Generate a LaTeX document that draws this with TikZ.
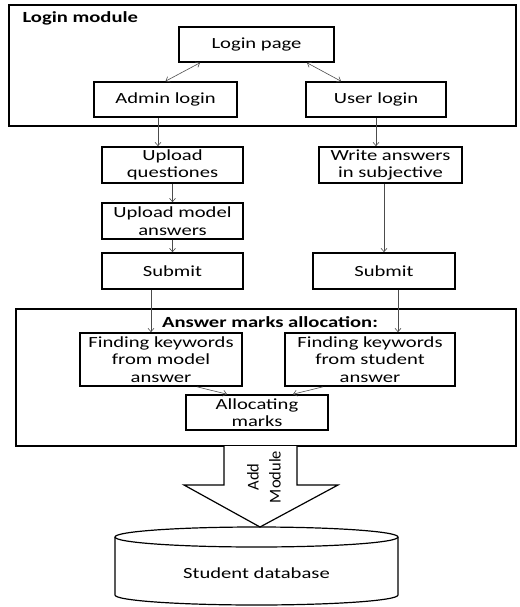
\documentclass[tikz,border=0pt]{standalone}
\usepackage{fontspec}
\setmainfont[FakeStretch=1.33]{Carlito}
\newfontfamily\addfont{Carlito}
\usetikzlibrary{arrows.meta}

\begin{document}
\begin{tikzpicture}[x = 1pt, y = 1pt, >={Straight Barb[length=3.5pt, width=6pt]},
	box/.style = {draw, line width = 1.6pt, inner sep = 1pt, align = center, font = \fontsize{15.5}{17.5}\selectfont},
	frame/.style = {draw, line width = 1.6pt},
	link/.style = {draw = black!70, line width = .6pt},
	title/.style = {anchor = base, font = \bfseries\fontsize{15.5}{17.5}\selectfont}]
	\useasboundingbox (0,0) rectangle (519,-607);
	\draw[frame] (9,-5) rectangle (516,-126); %login module
	\node[title, anchor = base west] (logtitle) at (19,-23) {Login module};
	\node[box, minimum width = 155pt, minimum height = 35pt] (page) at (256.5,-44.5) {Login page};
	\node[box, minimum width = 143pt, minimum height = 35pt] (admin) at (165.5,-99.5) {Admin login};
	\node[box, minimum width = 140pt, minimum height = 35pt] (user) at (376,-99.5) {User login};
	\draw[<->, link] ([xshift=-56.5pt]page.south) -- (admin.north);
	\draw[<->, link] ([xshift=50.5pt]page.south) -- ([xshift=-35pt]user.north);
	%admin side
	\node[box, minimum width = 141pt, minimum height = 36pt] (upq) at (172.5,-165) {Upload\\questiones};
	\node[box, minimum width = 141pt, minimum height = 36pt] (upm) at (172.5,-221) {Upload model\\answers};
	\node[box, minimum width = 141pt, minimum height = 36pt] (subl) at (172.5,-271) {Submit};
	\draw[->, link] ([xshift=-7.5pt]admin.south) -- ([xshift=-7.5pt]admin.south |- upq.north);
	\draw[->, link] (upq.south) -- (upm.north);
	\draw[->, link] (upm.south) -- (subl.north);
	%user side
	\node[box, minimum width = 143pt, minimum height = 36pt] (write) at (390.5,-165) {Write answers\\in subjective};
	\node[box, minimum width = 142pt, minimum height = 36pt] (subr) at (384,-271) {Submit};
	\draw[->, link] (user.south) -- (user.south |- write.north);
	\draw[->, link] (write.south -| subr.north) -- (subr.north);
	%marks allocation
	\draw[frame] (16,-309) rectangle (516,-446);
	\node[title] (marktitle) at (270,-327) {Answer marks allocation:};
	\node[box, minimum width = 162pt, minimum height = 53pt] (findm) at (161,-359.5) {Finding keywords\\from model\\answer};
	\node[box, minimum width = 170pt, minimum height = 53pt] (finds) at (370,-359.5) {Finding keywords\\from student\\answer};
	\node[box, minimum width = 142pt, minimum height = 35pt] (alloc) at (257,-412.5) {Allocating\\marks};
	\draw[->, link] ([xshift=-21.5pt]subl.south) -- ([xshift=-21.5pt]subl.south |- findm.north);
	\draw[->, link] ([xshift=14pt]subr.south) -- ([xshift=14pt]subr.south |- finds.north);
	\draw[->, link] ([xshift=36pt]findm.south) -- ([xshift=-30pt]alloc.north);
	\draw[->, link] ([xshift=-47pt]finds.south) -- ([xshift=36pt]alloc.north);
	%add module arrow
	\draw[frame, line width = 1.2pt, fill = white] (224,-446) -- (224,-485) -- (184,-485) -- (260,-527) -- (338,-485) -- (297,-485) -- (297,-446);
	\node[rotate = 90, align = center, inner sep = 0pt, font = \addfont\fontsize{16.5}{22}\selectfont] (add) at (264,-477) {Add\\Module};
	%database
	\draw[frame, line width = 1.2pt] (115,-537) -- (115,-595) arc[start angle = 180, end angle = 360, x radius = 141.5pt, y radius = 10pt] -- (398,-537);
	\draw[frame, line width = 1.2pt] (256.5,-537) ellipse[x radius = 141.5pt, y radius = 10pt];
	\node[font = \fontsize{15.5}{17.5}\selectfont] (db) at (256.5,-573) {Student database};
\end{tikzpicture}
\end{document}
